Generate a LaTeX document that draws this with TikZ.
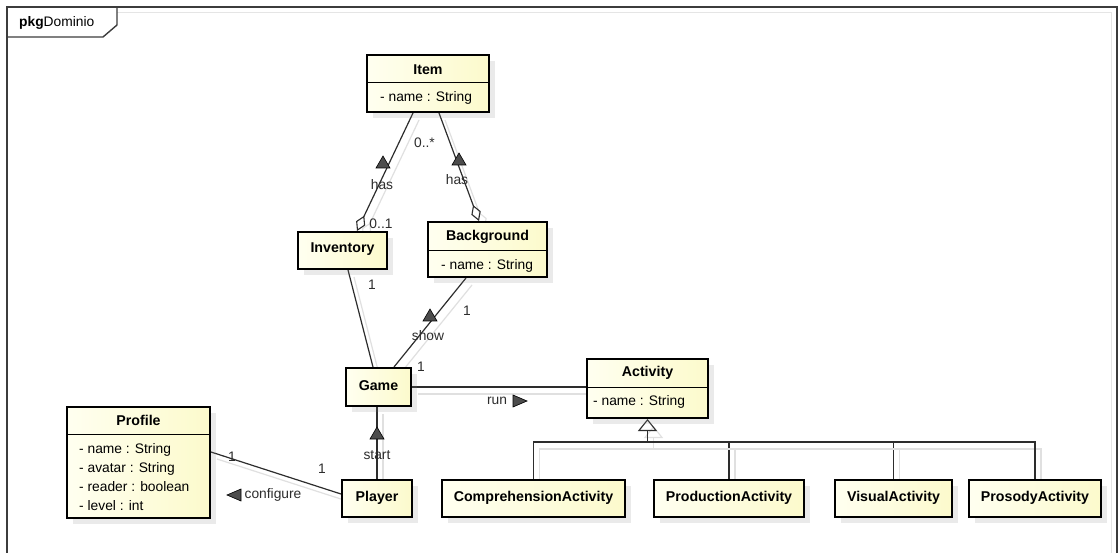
\documentclass[tikz,border=0pt]{standalone}
\usepackage{fontspec}
\setmainfont{Liberation Sans}
\usetikzlibrary{arrows.meta,calc,shadows}

\definecolor{clsA}{RGB}{255,255,240}
\definecolor{clsB}{RGB}{252,250,204}
\definecolor{ink}{RGB}{45,45,45}
\definecolor{frameink}{RGB}{60,60,60}

\pgfdeclarelayer{bg}
\pgfsetlayers{bg,main}

\begin{document}
\begin{tikzpicture}[x=1pt,y=-1pt,
  font=\fontsize{13.8}{16}\selectfont,
  cls/.style={rectangle, draw=black, line width=2pt, inner sep=0pt,
    left color=clsA, right color=clsB,
    drop shadow={shadow xshift=6pt, shadow yshift=-6pt, opacity=0.16}},
  ttl/.style={font=\fontsize{14.2}{16}\selectfont\bfseries, inner sep=0pt},
  attr/.style={inner sep=0pt, anchor=west},
  lbl/.style={inner sep=0pt, text=ink},
  divider/.style={line width=1pt, draw=black},
  conn/.style={line width=1.2pt, draw=ink,
    preaction={draw=black!12, line width=1.2pt,
      transform canvas={shift={(6pt,-7pt)}}}},
  agg/.style={-{Diamond[open, length=17pt, width=10pt, line width=1.1pt]}},
  gen/.style={-{Triangle[open, length=12pt, width=19pt, line width=1.1pt]}},
  frame/.style={line width=1.4pt, draw=frameink},
  dirup/.pic={\filldraw[fill=ink!85, draw=black, line width=0.6pt]
    (-7,6) -- (0,-6) -- (7,6) -- cycle;},
  dirright/.pic={\filldraw[fill=ink!85, draw=black, line width=0.6pt]
    (-7,-6) -- (7,0) -- (-7,6) -- cycle;},
  dirleft/.pic={\filldraw[fill=ink!85, draw=black, line width=0.6pt]
    (7,-6) -- (-7,0) -- (7,6) -- cycle;}
]
\useasboundingbox (0,0) rectangle (1119,553);
\clip (0,0) rectangle (1119,553);
\begin{pgfonlayer}{bg}
\fill[white] (0,0) rectangle (1119,553);
\end{pgfonlayer}

% package frame with its name tab
\draw[black!10, line width=1pt] (117,13) -- (1111,13) -- (1111,560);
\draw[frame] (7,560) -- (7,7) -- (1117,7) -- (1117,560);
\draw[frame] (7,37) -- (103,37) -- (117,25) -- (117,7);
\node[anchor=base west, inner sep=0pt] (pkg) at (19,27) {\textbf{pkg}Dominio};

% classes
\node[cls, minimum width=122pt, minimum height=57pt] (item) at (428,83.5) {};
\node[ttl] (itemT) at (428,70) {Item};
\draw[divider] (item.west |- 0,83) -- (item.east |- 0,83);
\node[attr] (itemA) at (380,98) {- name : String};

\node[cls, minimum width=89pt, minimum height=37pt] (inv) at (342.5,250.5) {};
\node[ttl] (invT) at (342.5,249) {Inventory};

\node[cls, minimum width=119pt, minimum height=55pt] (back) at (487.5,249.5) {};
\node[ttl] (backT) at (487.5,237) {Background};
\draw[divider] (back.west |- 0,251) -- (back.east |- 0,251);
\node[attr] (backA) at (441,266) {- name : String};

\node[cls, minimum width=65pt, minimum height=38pt] (game) at (378.5,387) {};
\node[ttl] (gameT) at (378.5,386) {Game};

\node[cls, minimum width=121pt, minimum height=59pt] (act) at (647.5,388.5) {};
\node[ttl] (actT) at (647.5,373) {Activity};
\draw[divider] (act.west |- 0,387) -- (act.east |- 0,387);
\node[attr] (actA) at (593,402) {- name : String};

\node[cls, minimum width=143pt, minimum height=111pt] (prof) at (138.5,462.5) {};
\node[ttl] (profT) at (138.5,420) {Profile};
\draw[divider] (prof.west |- 0,434) -- (prof.east |- 0,434);
\node[attr] (profA1) at (79,450) {- name : String};
\node[attr] (profA2) at (79,468.5) {- avatar : String};
\node[attr] (profA3) at (79,487) {- reader : boolean};
\node[attr] (profA4) at (79,505.5) {- level : int};

\node[cls, minimum width=70pt, minimum height=37pt] (player) at (377,498.5) {};
\node[ttl] (playerT) at (377,497.5) {Player};

\node[cls, minimum width=183pt, minimum height=37pt] (comp) at (533.5,498.5) {};
\node[ttl] (compT) at (533.5,497.5) {ComprehensionActivity};
\node[cls, minimum width=150pt, minimum height=37pt] (prod) at (729,498.5) {};
\node[ttl] (prodT) at (729,497.5) {ProductionActivity};
\node[cls, minimum width=117pt, minimum height=37pt] (vis) at (893.5,498.5) {};
\node[ttl] (visT) at (893.5,497.5) {VisualActivity};
\node[cls, minimum width=132pt, minimum height=37pt] (pros) at (1035,498.5) {};
\node[ttl] (prosT) at (1035,497.5) {ProsodyActivity};

% associations
\begin{pgfonlayer}{bg}
\draw[conn, agg] ([xshift=-15pt]item.south) -- ([xshift=14.5pt]inv.north);
\draw[conn, agg] ([xshift=11pt]item.south) -- ([xshift=-8.5pt]back.north);
\draw[conn] ([xshift=5.5pt]inv.south) -- ([xshift=-5.5pt]game.north);
\draw[conn] ([xshift=-21.5pt]back.south) -- ([xshift=15.5pt]game.north);
\draw[conn] (game.east) -- (game.east -| act.west);
\draw[conn] (player.north |- game.south) -- (player.north);
\draw[conn] ([yshift=10.5pt]prof.east) -- ([yshift=4.5pt]player.west);

% generalisation tree
\coordinate (gj) at (647.5,442);
\draw[conn, gen] (gj) -- (act.south);
\draw[conn] (comp.north) |- (gj);
\draw[conn] (prod.north) |- (gj);
\draw[conn] (vis.north) |- (gj);
\draw[conn] (pros.north) |- (gj);
\end{pgfonlayer}

% association names, reading directions and multiplicities
\pic at (383,162) {dirup};
\node[lbl] (has1) at (382,185) {has};
\node[lbl] (m1) at (424.5,143) {0..*};
\node[lbl] (m2) at (381,224) {0..1};

\pic at (459,159) {dirup};
\node[lbl] (has2) at (457,180) {has};

\node[lbl] (m3) at (372,285) {1};

\pic at (430,315) {dirup};
\node[lbl] (show) at (428,336) {show};
\node[lbl] (m4) at (467,311) {1};
\node[lbl] (m5) at (421,367) {1};

\node[lbl] (run) at (497,401) {run};
\pic at (520,401) {dirright};

\pic at (377,433) {dirup};
\node[lbl] (start) at (377,455) {start};

\pic at (234,495) {dirleft};
\node[lbl] (conf) at (273,495) {configure};
\node[lbl] (m6) at (232,457) {1};
\node[lbl] (m7) at (322,469) {1};
\end{tikzpicture}
\end{document}
